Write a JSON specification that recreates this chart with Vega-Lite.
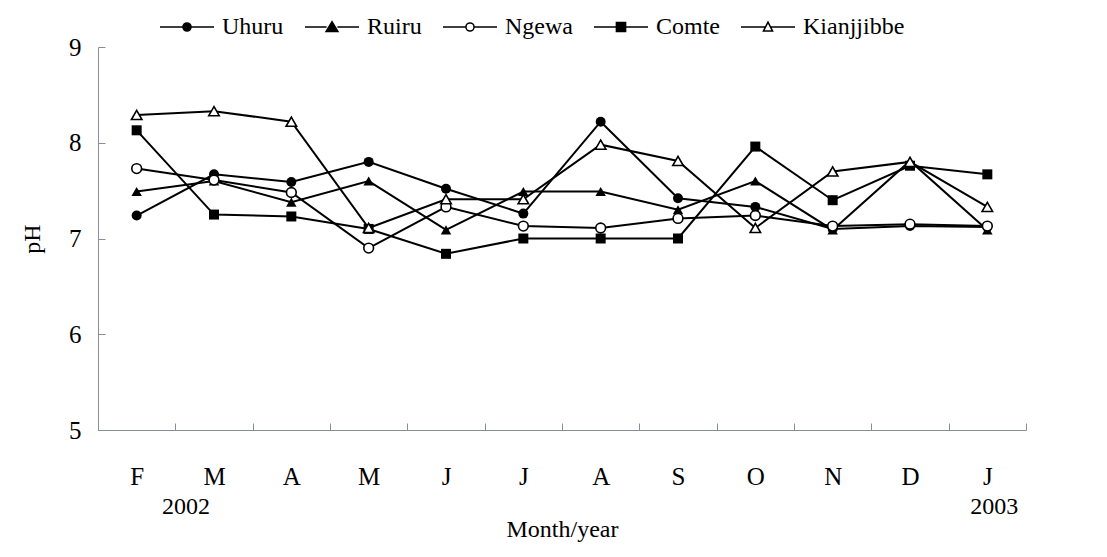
{
  "$schema": "https://vega.github.io/schema/vega-lite/v6.json",
  "width": 928,
  "height": 383,
  "autosize": {"type": "none"},
  "padding": {"left": 98, "top": 47, "right": 81, "bottom": 127},
  "background": "white",
  "config": {
    "view": {"stroke": null},
    "font": "Liberation Serif",
    "axis": {"grid": false, "domainColor": "#8a8e98", "tickColor": "#8a8e98", "labelColor": "black", "titleColor": "black", "labelFont": "Liberation Serif", "titleFont": "Liberation Serif", "titleFontWeight": "normal"},
    "legend": {"title": null, "orient": "none", "legendX": 61, "legendY": -48, "direction": "horizontal", "columns": 5, "labelFont": "Liberation Serif", "labelFontSize": 24, "labelColor": "black", "symbolSize": 2916, "symbolStrokeWidth": 1.5, "labelOffset": 7, "columnPadding": 18, "symbolOpacity": 1, "padding": 0}
  },
  "data": {
    "values": [
      {"m": "Feb", "s": "Uhuru", "ph": 7.24}, {"m": "Mar", "s": "Uhuru", "ph": 7.67}, {"m": "Apr", "s": "Uhuru", "ph": 7.59}, {"m": "May", "s": "Uhuru", "ph": 7.80}, {"m": "Jun", "s": "Uhuru", "ph": 7.52}, {"m": "Jul", "s": "Uhuru", "ph": 7.26}, {"m": "Aug", "s": "Uhuru", "ph": 8.22}, {"m": "Sep", "s": "Uhuru", "ph": 7.42}, {"m": "Oct", "s": "Uhuru", "ph": 7.33}, {"m": "Nov", "s": "Uhuru", "ph": 7.10}, {"m": "Dec", "s": "Uhuru", "ph": 7.13}, {"m": "Jan", "s": "Uhuru", "ph": 7.12},
      {"m": "Feb", "s": "Ruiru", "ph": 7.49}, {"m": "Mar", "s": "Ruiru", "ph": 7.60}, {"m": "Apr", "s": "Ruiru", "ph": 7.38}, {"m": "May", "s": "Ruiru", "ph": 7.60}, {"m": "Jun", "s": "Ruiru", "ph": 7.09}, {"m": "Jul", "s": "Ruiru", "ph": 7.49}, {"m": "Aug", "s": "Ruiru", "ph": 7.49}, {"m": "Sep", "s": "Ruiru", "ph": 7.30}, {"m": "Oct", "s": "Ruiru", "ph": 7.60}, {"m": "Nov", "s": "Ruiru", "ph": 7.09}, {"m": "Dec", "s": "Ruiru", "ph": 7.81}, {"m": "Jan", "s": "Ruiru", "ph": 7.09},
      {"m": "Feb", "s": "Ngewa", "ph": 7.73}, {"m": "Mar", "s": "Ngewa", "ph": 7.61}, {"m": "Apr", "s": "Ngewa", "ph": 7.48}, {"m": "May", "s": "Ngewa", "ph": 6.90}, {"m": "Jun", "s": "Ngewa", "ph": 7.33}, {"m": "Jul", "s": "Ngewa", "ph": 7.13}, {"m": "Aug", "s": "Ngewa", "ph": 7.11}, {"m": "Sep", "s": "Ngewa", "ph": 7.21}, {"m": "Oct", "s": "Ngewa", "ph": 7.24}, {"m": "Nov", "s": "Ngewa", "ph": 7.13}, {"m": "Dec", "s": "Ngewa", "ph": 7.15}, {"m": "Jan", "s": "Ngewa", "ph": 7.13},
      {"m": "Feb", "s": "Comte", "ph": 8.13}, {"m": "Mar", "s": "Comte", "ph": 7.25}, {"m": "Apr", "s": "Comte", "ph": 7.23}, {"m": "May", "s": "Comte", "ph": 7.10}, {"m": "Jun", "s": "Comte", "ph": 6.84}, {"m": "Jul", "s": "Comte", "ph": 7.00}, {"m": "Aug", "s": "Comte", "ph": 7.00}, {"m": "Sep", "s": "Comte", "ph": 7.00}, {"m": "Oct", "s": "Comte", "ph": 7.96}, {"m": "Nov", "s": "Comte", "ph": 7.40}, {"m": "Dec", "s": "Comte", "ph": 7.76}, {"m": "Jan", "s": "Comte", "ph": 7.67},
      {"m": "Feb", "s": "Kianjjibbe", "ph": 8.29}, {"m": "Mar", "s": "Kianjjibbe", "ph": 8.33}, {"m": "Apr", "s": "Kianjjibbe", "ph": 8.22}, {"m": "May", "s": "Kianjjibbe", "ph": 7.11}, {"m": "Jun", "s": "Kianjjibbe", "ph": 7.41}, {"m": "Jul", "s": "Kianjjibbe", "ph": 7.41}, {"m": "Aug", "s": "Kianjjibbe", "ph": 7.98}, {"m": "Sep", "s": "Kianjjibbe", "ph": 7.81}, {"m": "Oct", "s": "Kianjjibbe", "ph": 7.11}, {"m": "Nov", "s": "Kianjjibbe", "ph": 7.70}, {"m": "Dec", "s": "Kianjjibbe", "ph": 7.80}, {"m": "Jan", "s": "Kianjjibbe", "ph": 7.33}
    ]
  },
  "encoding": {
    "y": {
      "field": "ph", "type": "quantitative",
      "scale": {"domain": [5, 9], "nice": false, "zero": false},
      "axis": {"title": "pH", "titleFontSize": 24, "titlePadding": 24, "values": [5, 6, 7, 8, 9], "labelFontSize": 25, "tickSize": -7, "labelPadding": 24}
    }
  },
  "layer": [
    {
      "encoding": {
        "x": {
          "field": "m", "type": "ordinal",
          "sort": ["Feb", "Mar", "Apr", "May", "Jun", "Jul", "Aug", "Sep", "Oct", "Nov", "Dec", "Jan"],
          "scale": {"type": "band", "paddingInner": 0, "paddingOuter": 0},
          "axis": {
            "title": "Month/year", "titleFontSize": 24, "titlePadding": 28,
            "labelAngle": 0, "labelFontSize": 25, "labelPadding": 41,
            "tickBand": "extent", "tickSize": -7,
            "labelExpr": "isValid(datum.value) ? substring(datum.value, 0, 1) : ''"
          }
        }
      },
      "layer": [
        {"mark": {"type": "line", "color": "black", "strokeWidth": 2}, "encoding": {"detail": {"field": "s"}}},
        {"transform": [{"filter": "datum.s == 'Uhuru'"}], "mark": {"type": "point", "shape": "circle", "filled": true, "color": "black", "opacity": 1, "size": 100}},
        {"transform": [{"filter": "datum.s == 'Ruiru'"}], "mark": {"type": "point", "shape": "triangle-up", "filled": true, "color": "black", "opacity": 1, "size": 110}},
        {"transform": [{"filter": "datum.s == 'Ngewa'"}], "mark": {"type": "point", "shape": "circle", "fill": "white", "stroke": "black", "strokeWidth": 1.6, "opacity": 1, "size": 95}},
        {"transform": [{"filter": "datum.s == 'Comte'"}], "mark": {"type": "point", "shape": "square", "filled": true, "color": "black", "opacity": 1, "size": 100}},
        {"transform": [{"filter": "datum.s == 'Kianjjibbe'"}], "mark": {"type": "point", "shape": "triangle-up", "fill": "white", "stroke": "black", "strokeWidth": 1.6, "opacity": 1, "size": 110}}
      ]
    },
    {
      "mark": {"type": "point", "strokeWidth": 1.5, "opacity": 0},
      "encoding": {
        "x": {
          "field": "m", "type": "ordinal",
          "sort": ["Feb", "Mar", "Apr", "May", "Jun", "Jul", "Aug", "Sep", "Oct", "Nov", "Dec", "Jan"],
          "scale": {"type": "band", "paddingInner": 0, "paddingOuter": 0},
          "axis": {
            "orient": "bottom", "title": null, "domain": false, "ticks": false,
            "labelAngle": 0, "labelFontSize": 24, "labelPadding": 64,
            "labelOffset": {"condition": {"test": "datum.value == 'Mar'", "value": -28}, "value": 7},
            "labelExpr": "datum.value == 'Mar' ? '2002' : datum.value == 'Jan' ? '2003' : ''"
          }
        },
        "shape": {"field": "s", "scale": {"domain": ["Uhuru", "Ruiru", "Ngewa", "Comte", "Kianjjibbe"], "range": [
          "M-1,0H-0.15M0.15,0H1M-0.15,0A0.15,0.15,0,1,0,0.15,0A0.15,0.15,0,1,0,-0.15,0Z",
          "M-1,0H-0.2M0.2,0H1M0,-0.2L0.22,0.17L-0.22,0.17Z",
          "M-1,0H-0.15M0.15,0H1M-0.15,0A0.15,0.15,0,1,0,0.15,0A0.15,0.15,0,1,0,-0.15,0Z",
          "M-1,0H-0.17M0.17,0H1M-0.17,-0.17H0.17V0.17H-0.17Z",
          "M-1,0H-0.1M0.1,0H1M0,-0.18L0.17,0.15L-0.17,0.15Z"
        ]}},
        "fill": {"field": "s", "scale": {"domain": ["Uhuru", "Ruiru", "Ngewa", "Comte", "Kianjjibbe"], "range": ["black", "black", "white", "black", "white"]}},
        "stroke": {"field": "s", "scale": {"domain": ["Uhuru", "Ruiru", "Ngewa", "Comte", "Kianjjibbe"], "range": ["black", "black", "black", "black", "black"]}}
      }
    }
  ],
  "resolve": {"scale": {"x": "independent"}, "axis": {"x": "independent"}}
}
